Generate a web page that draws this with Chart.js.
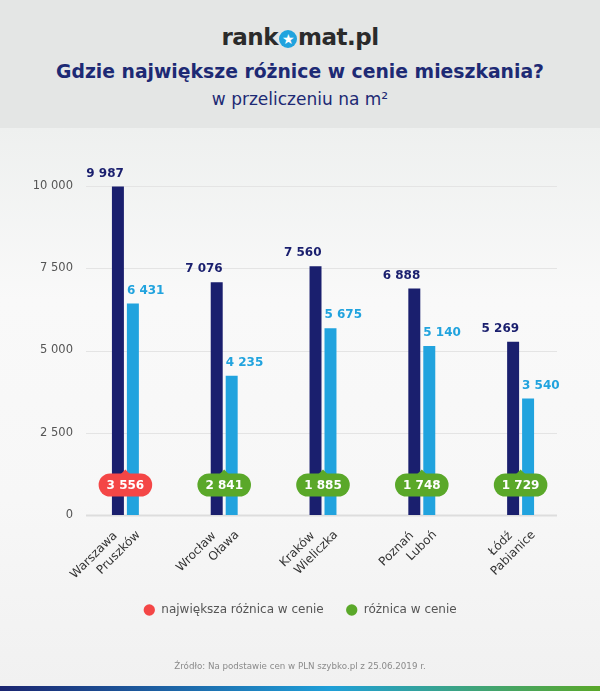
<!DOCTYPE html>
<html>
<head>
<meta charset="utf-8">
<script src="https://cdn.jsdelivr.net/npm/chart.js@4"></script>
<style>
	body { margin: 0; width: 600px; height: 691px; position: relative; overflow: hidden; font-family: "DejaVu Sans", sans-serif;
		background: linear-gradient(#eef0ef 128px, #f9f9f9 300px, #f7f7f7 500px, #f1f1f1 686px); }
	#header { position: absolute; left: 0; top: 0; width: 600px; height: 128px; background: #e4e6e5; }
	#logo { position: absolute; top: 24px; width: 600px; text-align: center; font-weight: bold; font-size: 23px; color: #2b2b2b; letter-spacing: -0.5px; }
	#logo .star { display: inline-block; width: 18px; height: 18px; border-radius: 50%; background: #21a3de; color: #fff; font-size: 14px; line-height: 18px; vertical-align: 1px; margin: 0 1px; }
	#title { position: absolute; top: 61px; width: 600px; text-align: center; font-weight: bold; font-size: 18.8px; color: #1d2a74; }
	#subtitle { position: absolute; top: 89px; width: 600px; text-align: center; font-size: 17px; color: #1d2a74; }
	#wrap { position: absolute; left: 0; top: 128px; width: 600px; height: 558px; }
	#source { position: absolute; top: 661px; width: 600px; text-align: center; font-size: 8.7px; color: #8a8a8a; }
	#bar { position: absolute; left: 0; top: 686px; width: 600px; height: 5px; background: linear-gradient(90deg, #1b2570, #1f9fd8 55%, #5aa829); }
</style>
</head>
<body>
<div id="header">
	<div id="logo">rank<span class="star">★</span>mat.pl</div>
	<div id="title">Gdzie największe różnice w cenie mieszkania?</div>
	<div id="subtitle">w przeliczeniu na m²</div>
</div>
<div id="wrap"><canvas id="priceChart"></canvas></div>
<div id="source">Źródło: Na podstawie cen w PLN szybko.pl z 25.06.2019 r.</div>
<div id="bar"></div>
<script>
const cities = [['Warszawa', 'Pruszków'], ['Wrocław', 'Oława'], ['Kraków', 'Wieliczka'], ['Poznań', 'Luboń'], ['Łódź', 'Pabianice']];
const cityPrices = [9987, 7076, 7560, 6888, 5269];
const suburbPrices = [6431, 4235, 5675, 5140, 3540];
const differences = [3556, 2841, 1885, 1748, 1729];
const yTicks = [0, 2500, 5000, 7500, 10000];

const NAVY = '#1a1f6e';
const BLUE = '#21a3de';
const RED = '#f44646';
const GREEN = '#5aa829';
const FONT = '"DejaVu Sans", sans-serif';

function fmt(n) {
	return n.toString().replace(/\B(?=(\d{3})+(?!\d))/g, ' ');
}

// light grid lines, a bit shorter than the chart area
const gridLines = {
	id: 'gridLines',
	beforeDatasetsDraw(chart) {
		const {ctx, chartArea, scales} = chart;
		ctx.save();
		yTicks.forEach(t => {
			const y = Math.round(scales.y.getPixelForValue(t)) + 0.5;
			ctx.strokeStyle = t === 0 ? '#dddddd' : '#e4e4e4';
			ctx.lineWidth = t === 0 ? 2 : 1;
			ctx.beginPath();
			ctx.moveTo(chartArea.left + 10, y);
			ctx.lineTo(chartArea.right - 13, y);
			ctx.stroke();
		});
		ctx.restore();
	}
};

// two-line slanted category labels (city / suburb)
const cityLabels = {
	id: 'cityLabels',
	afterDraw(chart) {
		const {ctx, scales} = chart;
		const base = scales.y.getPixelForValue(0);
		ctx.save();
		ctx.font = '12px ' + FONT;
		ctx.fillStyle = '#333333';
		ctx.textAlign = 'right';
		ctx.textBaseline = 'middle';
		cities.forEach((pair, i) => {
			const cx = scales.x.getPixelForValue(i);
			[[pair[0], cx - 10, base + 19], [pair[1], cx + 13, base + 18]].forEach(([txt, x, y]) => {
				ctx.save();
				ctx.translate(x, y);
				ctx.rotate(-Math.PI / 4);
				ctx.fillText(txt, 0, 0);
				ctx.restore();
			});
		});
		ctx.restore();
	}
};

// value labels above bars + difference badges
const barLabels = {
	id: 'barLabels',
	afterDatasetsDraw(chart) {
		const ctx = chart.ctx;
		ctx.save();
		ctx.font = 'bold 12px ' + FONT;
		ctx.textBaseline = 'middle';
		chart.data.datasets.forEach((ds, di) => {
			chart.getDatasetMeta(di).data.forEach((bar, i) => {
				ctx.fillStyle = ds.backgroundColor;
				ctx.textAlign = di === 0 ? 'right' : 'left';
				const x = di === 0 ? bar.x + bar.width / 2 : bar.x - bar.width / 2;
				ctx.fillText(fmt(ds.data[i]), x, bar.y - 13);
			});
		});

		const m0 = chart.getDatasetMeta(0).data;
		const m1 = chart.getDatasetMeta(1).data;
		const maxDiff = Math.max(...differences);
		const cy = chart.scales.y.getPixelForValue(0) - 30;
		ctx.textAlign = 'center';
		differences.forEach((d, i) => {
			const cx = (m0[i].x + m1[i].x) / 2;
			const txt = fmt(d);
			const w = ctx.measureText(txt).width + 16;
			const h = 23;
			ctx.fillStyle = d === maxDiff ? RED : GREEN;
			ctx.beginPath();
			ctx.roundRect(cx - w / 2, cy - h / 2, w, h, h / 2);
			ctx.fill();
			ctx.beginPath();
			ctx.moveTo(cx - 5, cy - h / 2 + 1);
			ctx.lineTo(cx, cy - h / 2 - 4);
			ctx.lineTo(cx + 5, cy - h / 2 + 1);
			ctx.fill();
			ctx.fillStyle = '#ffffff';
			ctx.fillText(txt, cx, cy + 1);
		});
		ctx.restore();
	}
};

const ctx = document.getElementById('priceChart').getContext('2d');
new Chart(ctx, {
	type: 'bar',
	data: {
		labels: cities,
		datasets: [{
			label: 'miasto',
			data: cityPrices,
			backgroundColor: NAVY,
			categoryPercentage: 0.303,
			barPercentage: 0.8,
		}, {
			label: 'okolica',
			data: suburbPrices,
			backgroundColor: BLUE,
			categoryPercentage: 0.303,
			barPercentage: 0.8,
		}]
	},
	options: {
		responsive: true,
		maintainAspectRatio: false,
		animation: false,
		layout: {
			padding: { top: 58, bottom: 60, left: 0, right: 0 }
		},
		plugins: {
			tooltip: { enabled: false },
			legend: {
				position: 'bottom',
				labels: {
					usePointStyle: true,
					boxHeight: 8,
					padding: 22,
					color: '#555555',
					font: { family: FONT, size: 12 },
					generateLabels: () => [
						{ text: 'największa różnica w cenie', fillStyle: RED, strokeStyle: RED, fontColor: '#555555', lineWidth: 0, pointStyle: 'circle' },
						{ text: 'różnica w cenie', fillStyle: GREEN, strokeStyle: GREEN, fontColor: '#555555', lineWidth: 0, pointStyle: 'circle' },
					]
				},
				onClick: null,
			}
		},
		scales: {
			x: {
				grid: { display: false, drawTicks: false },
				border: { display: false },
				ticks: { display: false },
				afterFit(s) { s.height = 67; }
			},
			y: {
				min: 0,
				max: 10000,
				grid: { display: false, drawTicks: false },
				border: { display: false },
				afterBuildTicks(s) { s.ticks = yTicks.map(v => ({ value: v })); },
				ticks: {
					padding: 3,
					color: '#555555',
					font: { family: FONT, size: 11.5 },
					callback: v => fmt(v),
				},
				afterFit(s) { s.width = 76; }
			},
			right: {
				position: 'right',
				grid: { display: false, drawTicks: false },
				border: { display: false },
				ticks: { display: false },
				afterFit(s) { s.width = 30; }
			}
		}
	},
	plugins: [gridLines, barLabels, cityLabels]
});
</script>
</body>
</html>
